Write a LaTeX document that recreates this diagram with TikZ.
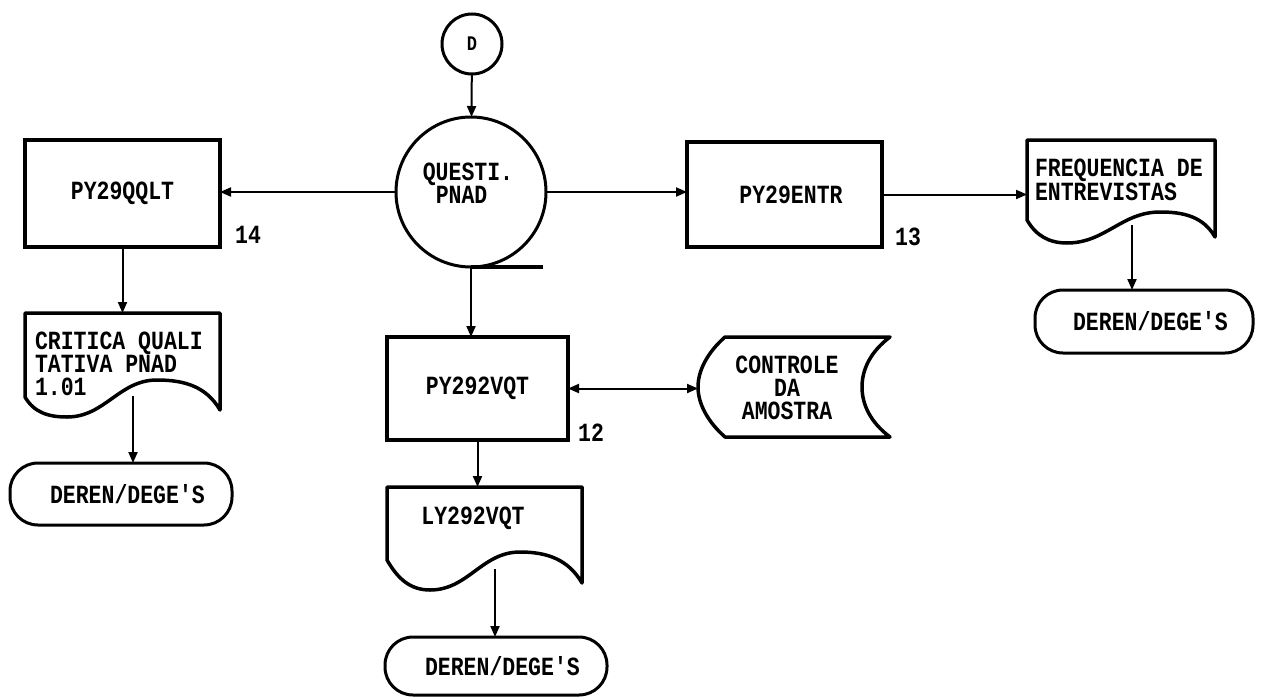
\documentclass[tikz,border=0pt]{standalone}
\usepackage{fontspec}
\usepackage{graphicx}
\setmonofont{Liberation Mono}
\usetikzlibrary{arrows.meta,calc}
\newcommand\vs[1]{\scalebox{1}[1.22]{#1}}
\begin{document}
\begin{tikzpicture}[x=1pt,y=-1pt,
  font=\ttfamily\bfseries\fontsize{21.5}{23}\selectfont,
  every node/.style={inner sep=0pt, outer sep=0pt},
  procbox/.style={draw, line width=3.5pt},
  area/.style={draw=none},
  outl/.style={line width=3.5pt, line join=round},
  term/.style={draw, line width=3pt, rounded corners=28pt},
  circ/.style={draw, circle, line width=3pt},
  conn/.style={line width=2pt, -{Triangle[length=11pt,width=9pt]}},
  dconn/.style={line width=2pt, {Triangle[length=11pt,width=9pt]}-{Triangle[length=11pt,width=9pt]}},
  lbl/.style={}
]
\useasboundingbox (0,0) rectangle (1263,699);

% connector D and main circle
\node[circ, minimum size=60pt, font=\ttfamily\bfseries\fontsize{17}{17}\selectfont] (D) at (472,44) {\vs{D}};
\node[circ, minimum size=150pt] (Q) at (471,192) {};
\node[lbl, align=left, anchor=center] (Qt) at (468,183) {\vs{QUESTI.}\\\vs{\ PNAD}};
\draw[outl] (Q.south) -- ++(72,0);

% left branch
\node[procbox, minimum width=195pt, minimum height=107pt] (qqlt) at (122.5,193.5) {\vs{PY29QQLT}};
\node[lbl] (l14) at (248,235) {\vs{14}};
\node[area, minimum width=195pt, minimum height=104pt] (crit) at (122.5,365) {};
\draw[outl] (25,397) -- (25,313) -- (220,313) -- (220,410)
  to[out=120,in=0] (157,380) to[out=180,in=0] (67,417) to[out=180,in=-60] cycle;
\node[lbl, align=left, anchor=west] (critt) at (35,364) {\vs{CRITICA QUALI}\\\vs{TATIVA PNAD}\\\vs{1.01}};
\coordinate (critw) at (133,396);
\node[term, minimum width=222pt, minimum height=62pt] (lterm) at (121,494) {\vs{~DEREN/DEGE'S}};

% right branch
\node[procbox, minimum width=195pt, minimum height=105pt] (entr) at (784.5,194.5) {\vs{~PY29ENTR}};
\node[lbl] (l13) at (908,237) {\vs{13}};
\node[area, minimum width=188pt, minimum height=103pt] (freq) at (1121,191.5) {};
\draw[outl] (1027,220) -- (1027,140) -- (1215,140) -- (1215,237)
  to[out=120,in=0] (1160,212) to[out=180,in=0] (1067,243) to[out=180,in=-60] cycle;
\node[lbl, align=left, anchor=west, font=\ttfamily\bfseries\fontsize{21.5}{21}\selectfont] (freqt) at (1035,180) {\vs{FREQUENCIA DE}\\\vs{ENTREVISTAS}};
\coordinate (freqw) at (1132,225);
\node[term, minimum width=218pt, minimum height=63pt] (rterm) at (1144,321.5) {\vs{~DEREN/DEGE'S}};

% lower branch
\node[procbox, minimum width=181pt, minimum height=103pt] (vqt) at (477.5,388.5) {\vs{PY292VQT}};
\node[lbl] (l12) at (591,433) {\vs{12}};
\node[area, minimum width=192pt, minimum height=100pt] (ctrl) at (794,387) {};
\draw[outl] (725,337) -- (890,337) .. controls (870,352) and (862,370) .. (862,387)
  .. controls (862,404) and (870,422) .. (890,437) -- (725,437)
  .. controls (708,422) and (698,404) .. (698,387) .. controls (698,370) and (708,352) .. cycle;
\node[lbl, align=center] (ctrlt) at (787,388) {\vs{CONTROLE}\\\vs{DA}\\\vs{AMOSTRA}};
\node[area, minimum width=195pt, minimum height=103pt] (ly) at (484.5,538.5) {};
\draw[outl] (387,560) -- (387,487) -- (582,487) -- (582,583)
  to[out=120,in=0] (520,552) to[out=180,in=0] (430,590) to[out=180,in=-60] cycle;
\node[lbl] (lyt) at (473,518) {\vs{LY292VQT}};
\coordinate (lyw) at (495,569);
\node[term, minimum width=222pt, minimum height=58pt] (bterm) at (496,666) {\vs{~DEREN/DEGE'S}};

% connectors
\draw[conn] (D) -- (Q);
\draw[conn] (Q.west) -- (Q.west -| qqlt.east);
\draw[conn] (Q.east) -- (Q.east -| entr.west);
\draw[conn] (entr.east) -- (entr.east -| freq.west);
\draw[conn] (Q.south) -- (Q.south |- vqt.north);
\draw[conn] (qqlt.south) -- (qqlt.south |- crit.north);
\draw[conn] (critw) -- (critw |- lterm.north);
\draw[conn] (freqw) -- (freqw |- rterm.north);
\draw[conn] (vqt.south) -- (vqt.south |- ly.north);
\draw[dconn] (vqt.east) -- (vqt.east -| ctrl.west);
\draw[conn] (lyw) -- (lyw |- bterm.north);
\end{tikzpicture}
\end{document}
